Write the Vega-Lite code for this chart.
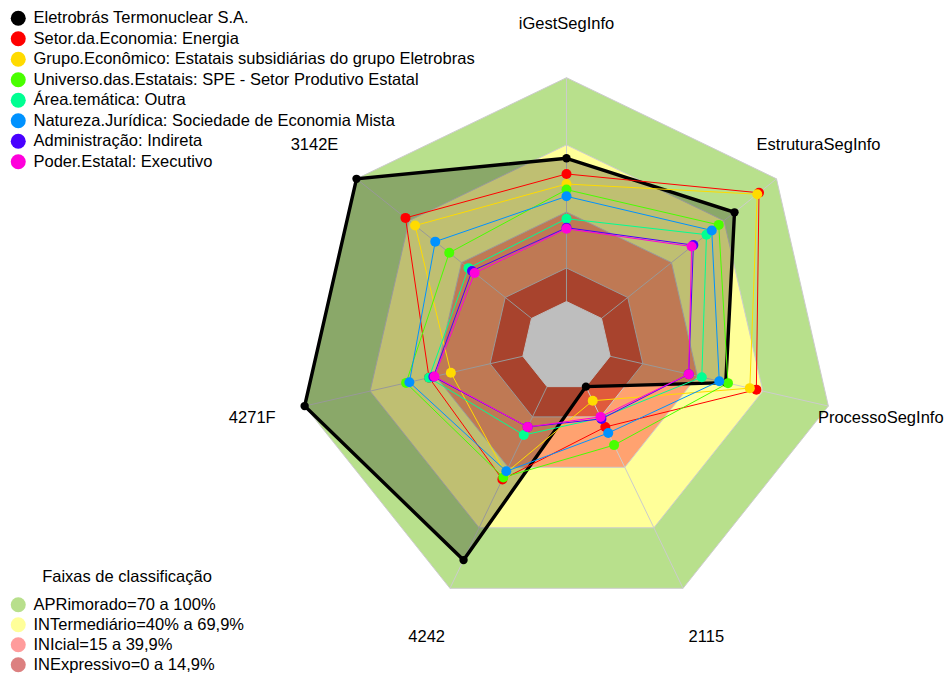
{
  "$schema": "https://vega.github.io/schema/vega-lite/v6.json",
  "width": 948,
  "height": 673,
  "padding": 0,
  "autosize": {"type": "none"},
  "background": "white",
  "config": {
    "view": {"stroke": null},
    "font": "Liberation Sans",
    "legend": {
      "padding": 0,
      "symbolSize": 225,
      "symbolType": "circle",
      "symbolStrokeWidth": 0,
      "symbolOpacity": 1,
      "labelFont": "Liberation Sans",
      "labelFontSize": 16.5,
      "labelColor": "black",
      "labelLimit": 700,
      "labelOffset": 7,
      "rowPadding": 3,
      "titleFont": "Liberation Sans",
      "titleFontSize": 16.5,
      "titleFontWeight": "normal",
      "titleColor": "black",
      "titlePadding": 11
    }
  },
  "datasets": {
    "eixos": [
      {"eixo": "iGestSegInfo", "ordem": 0},
      {"eixo": "EstruturaSegInfo", "ordem": 1},
      {"eixo": "ProcessoSegInfo", "ordem": 2},
      {"eixo": "2115", "ordem": 3},
      {"eixo": "4242", "ordem": 4},
      {"eixo": "4271F", "ordem": 5},
      {"eixo": "3142E", "ordem": 6}
    ],
    "faixas": [
      {"faixa": "APRimorado=70 a 100%", "limite": 100, "eixo": ["iGestSegInfo", "EstruturaSegInfo", "ProcessoSegInfo", "2115", "4242", "4271F", "3142E"]},
      {"faixa": "INTermediário=40% a 69,9%", "limite": 70, "eixo": ["iGestSegInfo", "EstruturaSegInfo", "ProcessoSegInfo", "2115", "4242", "4271F", "3142E"]},
      {"faixa": "INIcial=15 a 39,9%", "limite": 40, "eixo": ["iGestSegInfo", "EstruturaSegInfo", "ProcessoSegInfo", "2115", "4242", "4271F", "3142E"]},
      {"faixa": "INExpressivo=0 a 14,9%", "limite": 15, "eixo": ["iGestSegInfo", "EstruturaSegInfo", "ProcessoSegInfo", "2115", "4242", "4271F", "3142E"]},
      {"faixa": "centro", "limite": 0, "eixo": ["iGestSegInfo", "EstruturaSegInfo", "ProcessoSegInfo", "2115", "4242", "4271F", "3142E"]}
    ],
    "series": [
      {"serie": "Eletrobrás Termonuclear S.A.", "eixo": "iGestSegInfo", "valor": 64},
      {"serie": "Eletrobrás Termonuclear S.A.", "eixo": "EstruturaSegInfo", "valor": 76},
      {"serie": "Eletrobrás Termonuclear S.A.", "eixo": "ProcessoSegInfo", "valor": 53},
      {"serie": "Eletrobrás Termonuclear S.A.", "eixo": "2115", "valor": 0},
      {"serie": "Eletrobrás Termonuclear S.A.", "eixo": "4242", "valor": 86},
      {"serie": "Eletrobrás Termonuclear S.A.", "eixo": "4271F", "valor": 100},
      {"serie": "Eletrobrás Termonuclear S.A.", "eixo": "3142E", "valor": 100},
      {"serie": "Setor.da.Economia: Energia", "eixo": "iGestSegInfo", "valor": 57},
      {"serie": "Setor.da.Economia: Energia", "eixo": "EstruturaSegInfo", "valor": 90},
      {"serie": "Setor.da.Economia: Energia", "eixo": "ProcessoSegInfo", "valor": 67},
      {"serie": "Setor.da.Economia: Energia", "eixo": "2115", "valor": 20},
      {"serie": "Setor.da.Economia: Energia", "eixo": "4242", "valor": 46},
      {"serie": "Setor.da.Economia: Energia", "eixo": "4271F", "valor": 43},
      {"serie": "Setor.da.Economia: Energia", "eixo": "3142E", "valor": 72},
      {"serie": "Grupo.Econômico: Estatais subsidiárias do grupo Eletrobras", "eixo": "iGestSegInfo", "valor": 52.5},
      {"serie": "Grupo.Econômico: Estatais subsidiárias do grupo Eletrobras", "eixo": "EstruturaSegInfo", "valor": 89},
      {"serie": "Grupo.Econômico: Estatais subsidiárias do grupo Eletrobras", "eixo": "ProcessoSegInfo", "valor": 64},
      {"serie": "Grupo.Econômico: Estatais subsidiárias do grupo Eletrobras", "eixo": "2115", "valor": 7},
      {"serie": "Grupo.Econômico: Estatais subsidiárias do grupo Eletrobras", "eixo": "4242", "valor": 43},
      {"serie": "Grupo.Econômico: Estatais subsidiárias do grupo Eletrobras", "eixo": "4271F", "valor": 33},
      {"serie": "Grupo.Econômico: Estatais subsidiárias do grupo Eletrobras", "eixo": "3142E", "valor": 66.5},
      {"serie": "Universo.das.Estatais: SPE - Setor Produtivo Estatal", "eixo": "iGestSegInfo", "valor": 50},
      {"serie": "Universo.das.Estatais: SPE - Setor Produtivo Estatal", "eixo": "EstruturaSegInfo", "valor": 67},
      {"serie": "Universo.das.Estatais: SPE - Setor Produtivo Estatal", "eixo": "ProcessoSegInfo", "valor": 54},
      {"serie": "Universo.das.Estatais: SPE - Setor Produtivo Estatal", "eixo": "2115", "valor": 29},
      {"serie": "Universo.das.Estatais: SPE - Setor Produtivo Estatal", "eixo": "4242", "valor": 45},
      {"serie": "Universo.das.Estatais: SPE - Setor Produtivo Estatal", "eixo": "4271F", "valor": 53.5},
      {"serie": "Universo.das.Estatais: SPE - Setor Produtivo Estatal", "eixo": "3142E", "valor": 47},
      {"serie": "Área.temática: Outra", "eixo": "iGestSegInfo", "valor": 37},
      {"serie": "Área.temática: Outra", "eixo": "EstruturaSegInfo", "valor": 60},
      {"serie": "Área.temática: Outra", "eixo": "ProcessoSegInfo", "valor": 42},
      {"serie": "Área.temática: Outra", "eixo": "2115", "valor": 15.5},
      {"serie": "Área.temática: Outra", "eixo": "4242", "valor": 24},
      {"serie": "Área.temática: Outra", "eixo": "4271F", "valor": 43},
      {"serie": "Área.temática: Outra", "eixo": "3142E", "valor": 36},
      {"serie": "Natureza.Jurídica: Sociedade de Economia Mista", "eixo": "iGestSegInfo", "valor": 47},
      {"serie": "Natureza.Jurídica: Sociedade de Economia Mista", "eixo": "EstruturaSegInfo", "valor": 63},
      {"serie": "Natureza.Jurídica: Sociedade de Economia Mista", "eixo": "ProcessoSegInfo", "valor": 50},
      {"serie": "Natureza.Jurídica: Sociedade de Economia Mista", "eixo": "2115", "valor": 23},
      {"serie": "Natureza.Jurídica: Sociedade de Economia Mista", "eixo": "4242", "valor": 42},
      {"serie": "Natureza.Jurídica: Sociedade de Economia Mista", "eixo": "4271F", "valor": 52},
      {"serie": "Natureza.Jurídica: Sociedade de Economia Mista", "eixo": "3142E", "valor": 55},
      {"serie": "Administração: Indireta", "eixo": "iGestSegInfo", "valor": 33},
      {"serie": "Administração: Indireta", "eixo": "EstruturaSegInfo", "valor": 52.5},
      {"serie": "Administração: Indireta", "eixo": "ProcessoSegInfo", "valor": 36},
      {"serie": "Administração: Indireta", "eixo": "2115", "valor": 16},
      {"serie": "Administração: Indireta", "eixo": "4242", "valor": 20},
      {"serie": "Administração: Indireta", "eixo": "4271F", "valor": 41},
      {"serie": "Administração: Indireta", "eixo": "3142E", "valor": 34},
      {"serie": "Poder.Estatal: Executivo", "eixo": "iGestSegInfo", "valor": 32.5},
      {"serie": "Poder.Estatal: Executivo", "eixo": "EstruturaSegInfo", "valor": 51.5},
      {"serie": "Poder.Estatal: Executivo", "eixo": "ProcessoSegInfo", "valor": 36},
      {"serie": "Poder.Estatal: Executivo", "eixo": "2115", "valor": 15},
      {"serie": "Poder.Estatal: Executivo", "eixo": "4242", "valor": 20},
      {"serie": "Poder.Estatal: Executivo", "eixo": "4271F", "valor": 40.5},
      {"serie": "Poder.Estatal: Executivo", "eixo": "3142E", "valor": 32.5}
    ]
  },
  "encoding": {
    "x": {"field": "x", "type": "quantitative", "scale": {"domain": [-2.10908, 1.42033], "nice": false, "zero": false}, "axis": null},
    "y": {"field": "y", "type": "quantitative", "scale": {"domain": [-1.21631, 1.28928], "nice": false, "zero": false}, "axis": null}
  },
  "layer": [
    {
      "data": {"name": "faixas"},
      "transform": [
        {"filter": "datum.limite > 0"},
        {"flatten": ["eixo"]},
        {"lookup": "eixo", "from": {"data": {"name": "eixos"}, "key": "eixo", "fields": ["ordem"]}},
        {"calculate": "(1 + 5 * datum.limite / 100) / 6", "as": "r"},
        {"calculate": "datum.ordem * 2 * PI / 7", "as": "ang"},
        {"calculate": "datum.r * sin(datum.ang)", "as": "x"},
        {"calculate": "datum.r * cos(datum.ang)", "as": "y"}
      ],
      "mark": {"type": "line", "interpolate": "linear-closed", "stroke": "#cccccc", "strokeWidth": 1},
      "encoding": {
        "fill": {
          "field": "faixa", "type": "nominal",
          "scale": {"domain": ["APRimorado=70 a 100%", "INTermediário=40% a 69,9%", "INIcial=15 a 39,9%", "INExpressivo=0 a 14,9%"], "range": ["#b8e08c", "#ffff99", "#ffa270", "#e05a3c"]},
          "legend": null
        },
        "order": {"field": "ordem", "type": "quantitative"}
      }
    },
    {
      "data": {"name": "eixos"},
      "transform": [
        {"calculate": "datum.ordem * 2 * PI / 7", "as": "ang"},
        {"calculate": "sin(datum.ang)", "as": "x"},
        {"calculate": "cos(datum.ang)", "as": "y"},
        {"calculate": "sin(datum.ang) / 6", "as": "x2"},
        {"calculate": "cos(datum.ang) / 6", "as": "y2"}
      ],
      "mark": {"type": "rule", "stroke": "#cccccc", "strokeWidth": 1},
      "encoding": {"x2": {"field": "x2"}, "y2": {"field": "y2"}}
    },
    {
      "data": {"name": "series"},
      "transform": [
        {"filter": "datum.serie === 'Eletrobrás Termonuclear S.A.'"},
        {"lookup": "eixo", "from": {"data": {"name": "eixos"}, "key": "eixo", "fields": ["ordem"]}},
        {"calculate": "(1 + 5 * datum.valor / 100) / 6", "as": "r"},
        {"calculate": "datum.ordem * 2 * PI / 7", "as": "ang"},
        {"calculate": "datum.r * sin(datum.ang)", "as": "x"},
        {"calculate": "datum.r * cos(datum.ang)", "as": "y"}
      ],
      "mark": {"type": "line", "interpolate": "linear-closed", "fill": "black", "fillOpacity": 0.25, "strokeWidth": 0},
      "encoding": {"order": {"field": "ordem", "type": "quantitative"}}
    },
    {
      "data": {"name": "faixas"},
      "transform": [
        {"filter": "datum.limite === 0"},
        {"flatten": ["eixo"]},
        {"lookup": "eixo", "from": {"data": {"name": "eixos"}, "key": "eixo", "fields": ["ordem"]}},
        {"calculate": "(1 + 5 * datum.limite / 100) / 6", "as": "r"},
        {"calculate": "datum.ordem * 2 * PI / 7", "as": "ang"},
        {"calculate": "datum.r * sin(datum.ang)", "as": "x"},
        {"calculate": "datum.r * cos(datum.ang)", "as": "y"}
      ],
      "mark": {"type": "line", "interpolate": "linear-closed", "fill": "#bebebe", "stroke": "#bebebe", "strokeWidth": 1},
      "encoding": {"order": {"field": "ordem", "type": "quantitative"}}
    },
    {
      "data": {"name": "series"},
      "transform": [
        {"lookup": "eixo", "from": {"data": {"name": "eixos"}, "key": "eixo", "fields": ["ordem"]}},
        {"calculate": "(1 + 5 * datum.valor / 100) / 6", "as": "r"},
        {"calculate": "datum.ordem * 2 * PI / 7", "as": "ang"},
        {"calculate": "datum.r * sin(datum.ang)", "as": "x"},
        {"calculate": "datum.r * cos(datum.ang)", "as": "y"}
      ],
      "mark": {"type": "line", "interpolate": "linear-closed"},
      "encoding": {
        "stroke": {
          "field": "serie", "type": "nominal",
          "scale": {
            "domain": ["Poder.Estatal: Executivo", "Administração: Indireta", "Natureza.Jurídica: Sociedade de Economia Mista", "Área.temática: Outra", "Universo.das.Estatais: SPE - Setor Produtivo Estatal", "Grupo.Econômico: Estatais subsidiárias do grupo Eletrobras", "Setor.da.Economia: Energia", "Eletrobrás Termonuclear S.A."],
            "range": ["#FF00DB", "#4900FF", "#0092FF", "#00FF92", "#49FF00", "#FFDB00", "#FF0000", "#000000"]
          },
          "legend": null
        },
        "strokeWidth": {"condition": {"test": "datum.serie === 'Eletrobrás Termonuclear S.A.'", "value": 3.4}, "value": 1},
        "order": {"field": "ordem", "type": "quantitative"}
      }
    },
    {
      "data": {"name": "series"},
      "transform": [
        {"lookup": "eixo", "from": {"data": {"name": "eixos"}, "key": "eixo", "fields": ["ordem"]}},
        {"calculate": "(1 + 5 * datum.valor / 100) / 6", "as": "r"},
        {"calculate": "datum.ordem * 2 * PI / 7", "as": "ang"},
        {"calculate": "datum.r * sin(datum.ang)", "as": "x"},
        {"calculate": "datum.r * cos(datum.ang)", "as": "y"}
      ],
      "mark": {"type": "circle", "opacity": 1},
      "encoding": {
        "color": {
          "field": "serie", "type": "nominal",
          "scale": {
            "domain": ["Eletrobrás Termonuclear S.A.", "Setor.da.Economia: Energia", "Grupo.Econômico: Estatais subsidiárias do grupo Eletrobras", "Universo.das.Estatais: SPE - Setor Produtivo Estatal", "Área.temática: Outra", "Natureza.Jurídica: Sociedade de Economia Mista", "Administração: Indireta", "Poder.Estatal: Executivo"],
            "range": ["#000000", "#FF0000", "#FFDB00", "#49FF00", "#00FF92", "#0092FF", "#4900FF", "#FF00DB"]
          },
          "legend": {"title": null, "orient": "none", "legendX": 10, "legendY": 10, "rowPadding": 3.5}
        },
        "size": {"condition": {"test": "datum.serie === 'Eletrobrás Termonuclear S.A.'", "value": 70}, "value": 100}
      }
    },
    {
      "data": {"name": "eixos"},
      "transform": [
        {"calculate": "datum.ordem * 2 * PI / 7", "as": "ang"},
        {"calculate": "1.2 * sin(datum.ang)", "as": "x"},
        {"calculate": "1.2 * cos(datum.ang)", "as": "y"}
      ],
      "mark": {"type": "text", "font": "Liberation Sans", "fontSize": 16.5, "align": "center", "baseline": "middle", "color": "black"},
      "encoding": {"text": {"field": "eixo", "type": "nominal"}}
    },
    {
      "data": {"name": "faixas"},
      "transform": [
        {"filter": "datum.limite > 0"},
        {"calculate": "0", "as": "x"},
        {"calculate": "0", "as": "y"}
      ],
      "mark": {"type": "circle", "opacity": 0},
      "encoding": {
        "fill": {
          "field": "faixa", "type": "nominal",
          "scale": {"domain": ["APRimorado=70 a 100%", "INTermediário=40% a 69,9%", "INIcial=15 a 39,9%", "INExpressivo=0 a 14,9%"], "range": ["#b8df8c", "#ffff99", "#ff9c9c", "#dc8080"]},
          "legend": {"title": "Faixas de classificação", "orient": "none", "legendX": 10, "legendY": 569, "titleAnchor": "middle", "symbolOpacity": 1}
        }
      }
    }
  ],
  "resolve": {"scale": {"fill": "independent"}}
}
